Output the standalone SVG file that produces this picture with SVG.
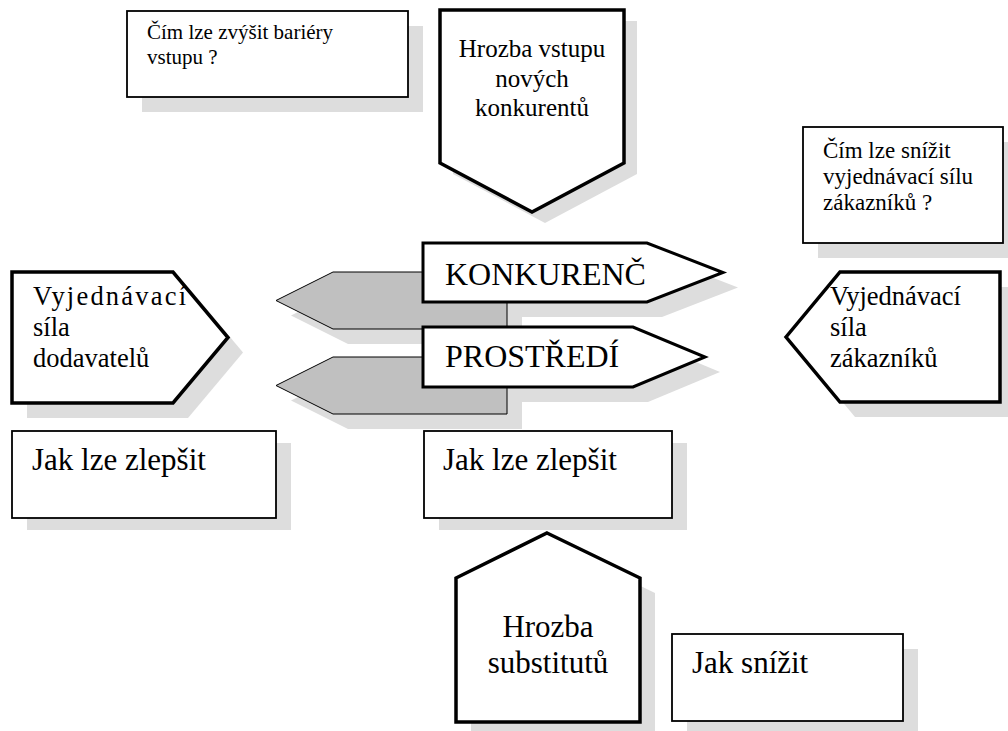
<svg xmlns="http://www.w3.org/2000/svg" width="1008" height="731" viewBox="0 0 1008 731">
<style>
.shadow{fill:#dddddd;stroke:none}
.box{fill:#ffffff;stroke:#000000;stroke-width:1.8}
.thick{fill:#ffffff;stroke:#000000;stroke-width:3.5;stroke-linejoin:miter}
.arrow{fill:#ffffff;stroke:#000000;stroke-width:3;stroke-linejoin:miter}
.grey{fill:#c0c0c0;stroke:#000000;stroke-width:1}
text{font-family:"Liberation Serif","Times New Roman",serif;fill:#000000}
.s21{font-size:21px}
.s23{font-size:23px}
.s25{font-size:25px}
.s26{font-size:26.5px}
.s31{font-size:31px}
.s32{font-size:32px}
.mid{text-anchor:middle}
</style>
<rect width="1008" height="731" fill="#ffffff"/>
<g id="shadows" transform="translate(15,15)">
<rect class="shadow" x="127" y="11" width="281" height="86"/>
<polygon class="shadow" points="440,10 624,10 624,163 532,212 440,163" transform="translate(-2,-4)"/>
<rect class="shadow" x="803" y="127" width="200" height="116"/>
<polygon class="shadow" points="12,272 173,272 228,337.5 173,403 12,403"/>
<polygon class="shadow" points="786,337 840,272 1000,272 1000,402 840,402"/>
<polygon class="shadow" points="423,243 647,243 723,272.5 647,302 423,302"/>
<polygon class="shadow" points="423,327 633,327 705,357 633,387 423,387"/>
<polygon class="shadow" points="276,300.5 333,272 507,272 507,329 333,329"/>
<polygon class="shadow" points="276,385.5 333,357 507,357 507,414 333,414"/>
<rect class="shadow" x="12" y="431" width="264" height="87" transform="translate(0,-3)"/>
<rect class="shadow" x="424" y="431" width="248" height="87" transform="translate(0,-3)"/>
<polygon class="shadow" points="547,533 640,578 640,722 456,722 456,578"/>
<rect class="shadow" x="672" y="634" width="231" height="87"/>
</g>
<g id="connectors"></g>
<g id="bariery">
<rect class="box" x="127" y="11" width="281" height="86"/>
<text class="s21" x="147" y="39">Čím lze zvýšit bariéry</text>
<text class="s21" x="147" y="64">vstupu ?</text>
</g>
<g id="hrozba-vstupu">
<polygon class="thick" points="440,10 624,10 624,163 532,212 440,163"/>
<text class="s25 mid" x="532" y="57">Hrozba vstupu</text>
<text class="s25 mid" x="532" y="87">nových</text>
<text class="s25 mid" x="532" y="116">konkurentů</text>
</g>
<g id="snizit-silu">
<rect class="box" x="803" y="127" width="200" height="116"/>
<text class="s23" x="823" y="158">Čím lze snížit</text>
<text class="s23" x="823" y="184">vyjednávací sílu</text>
<text class="s23" x="823" y="210">zákazníků ?</text>
</g>
<g id="dodavatele">
<polygon class="thick" points="12,272 173,272 228,337.5 173,403 12,403"/>
<text class="s26" x="33" y="305" textLength="153" lengthAdjust="spacing">Vyjednávací</text>
<text class="s26" x="33" y="336">síla</text>
<text class="s26" x="33" y="367">dodavatelů</text>
</g>
<g id="zakaznici">
<polygon class="thick" points="786,337 840,272 1000,272 1000,402 840,402"/>
<text class="s26" x="830" y="305">Vyjednávací</text>
<text class="s26" x="830" y="336">síla</text>
<text class="s26" x="830" y="367">zákazníků</text>
</g>
<g id="sipka-sedo-1">
<polygon class="grey" points="276,300.5 333,272 507,272 507,329 333,329"/>
</g>
<g id="sipka-sedo-2">
<polygon class="grey" points="276,385.5 333,357 507,357 507,414 333,414"/>
</g>
<g id="konkurenc">
<polygon class="arrow" points="423,243 647,243 723,272.5 647,302 423,302"/>
<text class="s32" x="445" y="285">KONKURENČ</text>
</g>
<g id="prostredi">
<polygon class="arrow" points="423,327 633,327 705,357 633,387 423,387"/>
<text class="s32" x="445" y="367">PROSTŘEDÍ</text>
</g>
<g id="jak-zlepsit-1">
<rect class="box" x="12" y="431" width="264" height="87"/>
<text class="s31" x="32" y="470">Jak lze zlepšit</text>
</g>
<g id="jak-zlepsit-2">
<rect class="box" x="424" y="431" width="248" height="87"/>
<text class="s31" x="443" y="470">Jak lze zlepšit</text>
</g>
<g id="hrozba-substitutu">
<polygon class="thick" points="547,533 640,578 640,722 456,722 456,578"/>
<text class="s31 mid" x="548" y="637">Hrozba</text>
<text class="s31 mid" x="548" y="673">substitutů</text>
</g>
<g id="jak-snizit">
<rect class="box" x="672" y="634" width="231" height="87"/>
<text class="s31" x="692" y="673">Jak snížit</text>
</g>
</svg>
